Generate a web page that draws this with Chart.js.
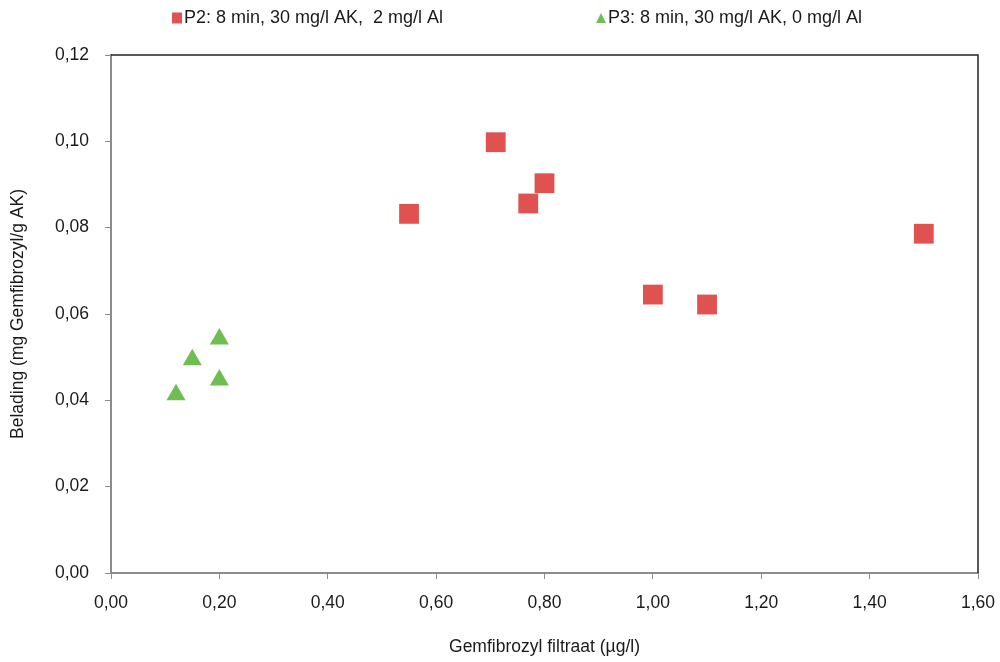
<!DOCTYPE html>
<html>
<head>
<meta charset="utf-8">
<script src="https://cdn.jsdelivr.net/npm/chart.js@4.4.0/dist/chart.umd.min.js"></script>
<style>
  html, body { margin: 0; padding: 0; background: #fff; overflow: hidden; }
  #wrap { width: 1000px; height: 662px; }
</style>
</head>
<body>
<div id="wrap"><canvas id="myChart" width="1000" height="662"></canvas></div>
<script>
// P2: 8 min, 30 mg/l AK, 2 mg/l Al
const p2X = [0.55, 0.71, 0.77, 0.80, 1.00, 1.10, 1.50];
const p2Y = [0.0832, 0.0998, 0.0856, 0.0903, 0.0645, 0.0622, 0.0786];
// P3: 8 min, 30 mg/l AK, 0 mg/l Al
const p3X = [0.12, 0.15, 0.20, 0.20];
const p3Y = [0.0413, 0.0494, 0.0542, 0.0447];

const xTicks = [0, 0.2, 0.4, 0.6, 0.8, 1.0, 1.2, 1.4, 1.6];
const yTicks = [0, 0.02, 0.04, 0.06, 0.08, 0.10, 0.12];

const labelP2 = 'P2: 8 min, 30 mg/l AK,  2 mg/l Al';
const labelP3 = 'P3: 8 min, 30 mg/l AK, 0 mg/l Al';

const red = 'rgb(224, 82, 80)';
const green = 'rgb(110, 190, 82)';
const font = '"Liberation Sans", Arial, sans-serif';

const toPoints = (xs, ys) => xs.map((x, i) => ({ x, y: ys[i] }));
const fmt = (v) => v.toFixed(2).replace('.', ',');

// legend drawn like the Excel one, plus the dark frame on top/right
const extras = {
  id: 'extras',
  afterDraw(chart) {
    const ctx = chart.ctx;
    const a = chart.chartArea;
    ctx.save();
    ctx.strokeStyle = '#222';
    ctx.lineWidth = 1.5;
    ctx.beginPath();
    ctx.moveTo(a.left, a.top);
    ctx.lineTo(a.right, a.top);
    ctx.lineTo(a.right, a.bottom);
    ctx.stroke();

    ctx.font = '18px ' + font;
    ctx.textBaseline = 'middle';
    const ly = 18;
    ctx.fillStyle = red;
    ctx.fillRect(172, ly - 5.5, 10, 11);
    ctx.fillStyle = '#1a1a1a';
    ctx.fillText(labelP2, 184, ly);

    ctx.fillStyle = green;
    ctx.beginPath();
    ctx.moveTo(601, ly - 5);
    ctx.lineTo(606, ly + 5);
    ctx.lineTo(596, ly + 5);
    ctx.closePath();
    ctx.fill();
    ctx.fillStyle = '#1a1a1a';
    ctx.fillText(labelP3, 608, ly);
    ctx.restore();
  },
};

const ctx = document.getElementById('myChart').getContext('2d');
window.myChart = new Chart(ctx, {
  type: 'scatter',
  data: {
    datasets: [
      {
        label: labelP2,
        data: toPoints(p2X, p2Y),
        pointStyle: 'rect',
        pointRadius: 14,
        pointHoverRadius: 14,
        backgroundColor: red,
        borderColor: red,
        borderWidth: 0,
      },
      {
        label: labelP3,
        data: toPoints(p3X, p3Y),
        pointStyle: 'triangle',
        pointRadius: 11,
        pointHoverRadius: 11,
        backgroundColor: green,
        borderColor: green,
        borderWidth: 0,
      },
    ],
  },
  options: {
    responsive: false,
    animation: false,
    devicePixelRatio: 1,
    layout: { padding: { top: 55, right: 22, bottom: 0, left: 0 } },
    plugins: {
      legend: { display: false },
      tooltip: { enabled: false },
    },
    scales: {
      x: {
        type: 'linear',
        min: 0,
        max: 1.6,
        afterBuildTicks: (scale) => {
          scale.ticks = xTicks.map((v) => ({ value: v }));
        },
        afterFit: (scale) => {
          scale.height = 89;
          scale.paddingLeft = 0;
          scale.paddingRight = 0;
        },
        grid: {
          display: true,
          drawOnChartArea: false,
          drawTicks: true,
          tickLength: 6,
          color: '#8c8c8c',
        },
        border: { color: '#8c8c8c', width: 2 },
        ticks: {
          color: '#1a1a1a',
          font: { size: 17.5, family: font },
          padding: 14,
          maxRotation: 0,
          callback: (v) => fmt(v),
        },
        title: {
          display: true,
          text: 'Gemfibrozyl filtraat (µg/l)',
          color: '#1a1a1a',
          font: { size: 17.5, family: font },
          padding: { top: 12 },
        },
      },
      y: {
        type: 'linear',
        min: 0,
        max: 0.12,
        afterBuildTicks: (scale) => {
          scale.ticks = yTicks.map((v) => ({ value: v }));
        },
        afterFit: (scale) => {
          scale.width = 111;
          scale.paddingTop = 0;
          scale.paddingBottom = 0;
        },
        grid: {
          display: true,
          drawOnChartArea: false,
          drawTicks: true,
          tickLength: 6,
          color: '#8c8c8c',
        },
        border: { color: '#8c8c8c', width: 2 },
        ticks: {
          color: '#1a1a1a',
          font: { size: 17.5, family: font },
          padding: 16,
          callback: (v) => fmt(v),
        },
        title: {
          display: true,
          text: 'Belading (mg Gemfibrozyl/g AK)',
          color: '#1a1a1a',
          font: { size: 17.5, family: font },
          padding: { top: 8, bottom: 0 },
        },
      },
    },
  },
  plugins: [extras],
});
</script>
</body>
</html>
